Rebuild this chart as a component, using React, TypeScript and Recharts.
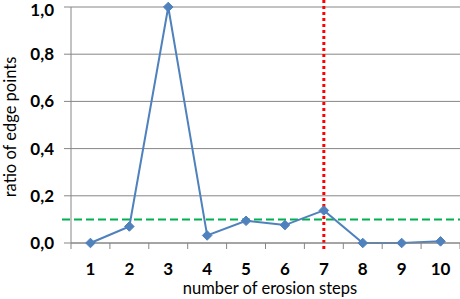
import React from "react";
import { LineChart, Line, XAxis, YAxis, CartesianGrid, ReferenceLine } from "recharts";

const steps = ["1", "2", "3", "4", "5", "6", "7", "8", "9", "10"];
const ratios = [0, 0.07, 1.0, 0.032, 0.094, 0.076, 0.138, 0, 0, 0.007];
const yTicks = [0, 0.2, 0.4, 0.6, 0.8, 1.0];
const thresholdValue = 0.1;
const markedStep = "7";

const data = steps.map((s, i) => ({ step: s, ratio: ratios[i] }));

const FONT = "Lato, 'Open Sans', sans-serif";
const AXIS = "#868686";
const BLUE = "#4F81BD";

const Diamond = (props: any) => {
  const { cx, cy } = props;
  if (cx == null || cy == null) return null;
  const r = 4.8;
  return (
    <polygon
      points={`${cx},${cy - r} ${cx + r},${cy} ${cx},${cy + r} ${cx - r},${cy}`}
      fill={BLUE}
      stroke={BLUE}
      strokeWidth={1}
    />
  );
};

const XTick = (props: any) => {
  const { x, y, payload, index } = props;
  const half = payload && payload.offset ? payload.offset : 19.45;
  const axisY = y - 8;
  return (
    <g>
      <line x1={x - half} y1={axisY} x2={x - half} y2={axisY + 6} stroke={AXIS} strokeWidth={1} />
      {index === steps.length - 1 && (
        <line x1={x + half} y1={axisY} x2={x + half} y2={axisY + 6} stroke={AXIS} strokeWidth={1} />
      )}
      <text
        x={x}
        y={axisY + 25}
        textAnchor="middle"
        dominantBaseline="central"
        fontFamily={FONT}
        fontWeight="bold"
        fontSize={17}
        fill="#000"
      >
        {payload.value}
      </text>
    </g>
  );
};

export default function App() {
  return (
    <div style={{ position: "absolute", left: 0, top: 0, background: "#fff" }}>
      <LineChart width={460} height={299} data={data} margin={{ top: 7, right: 0, left: 0, bottom: 0 }}>
        <CartesianGrid horizontal vertical={false} stroke={AXIS} strokeWidth={1} />
        <XAxis
          dataKey="step"
          type="category"
          scale="band"
          height={56}
          axisLine={{ stroke: AXIS }}
          tickLine={false}
          interval={0}
          tick={<XTick />}
          label={{
            content: (p: any) => {
              const vb = p.viewBox || { y: 243 };
              return (
                <text
                  x={270}
                  y={vb.y + 45}
                  textAnchor="middle"
                  dominantBaseline="central"
                  fontFamily={FONT}
                  fontSize={16.5}
                  fill="#000"
                >
                  number of erosion steps
                </text>
              );
            },
          }}
        />
        <YAxis
          domain={[0, 1]}
          ticks={yTicks}
          width={71}
          tickSize={7}
          tickMargin={10}
          axisLine={{ stroke: AXIS }}
          tickLine={{ stroke: AXIS }}
          tickFormatter={(v: number) => v.toFixed(1).replace(".", ",")}
          tick={{ fontFamily: FONT, fontWeight: "bold", fontSize: 17, fill: "#000" }}
          label={{
            content: (p: any) => {
              const vb = p.viewBox || { y: 7, height: 236 };
              const cy = vb.y + vb.height / 2 + 2;
              return (
                <text
                  x={10}
                  y={cy}
                  transform={`rotate(-90 10 ${cy})`}
                  textAnchor="middle"
                  dominantBaseline="central"
                  fontFamily={FONT}
                  fontSize={16.5}
                  fill="#000"
                >
                  ratio of edge points
                </text>
              );
            },
          }}
        />
        <ReferenceLine
          y={thresholdValue}
          ifOverflow="visible"
          shape={(p: any) => (
            <line
              x1={Math.min(p.x1, p.x2) - 9}
              y1={p.y1}
              x2={Math.max(p.x1, p.x2) + 1}
              y2={p.y2}
              stroke="#00B050"
              strokeWidth={2}
              strokeDasharray="8 4"
            />
          )}
        />
        <ReferenceLine
          x={markedStep}
          ifOverflow="visible"
          shape={(p: any) => (
            <line
              x1={p.x1}
              y1={Math.min(p.y1, p.y2) - 7}
              x2={p.x2}
              y2={Math.max(p.y1, p.y2) + 6}
              stroke="#FF0000"
              strokeWidth={3}
              strokeDasharray="3 3"
            />
          )}
        />
        <Line
          type="linear"
          dataKey="ratio"
          stroke={BLUE}
          strokeWidth={2}
          dot={<Diamond />}
          activeDot={false}
          isAnimationActive={false}
        />
      </LineChart>
    </div>
  );
}
